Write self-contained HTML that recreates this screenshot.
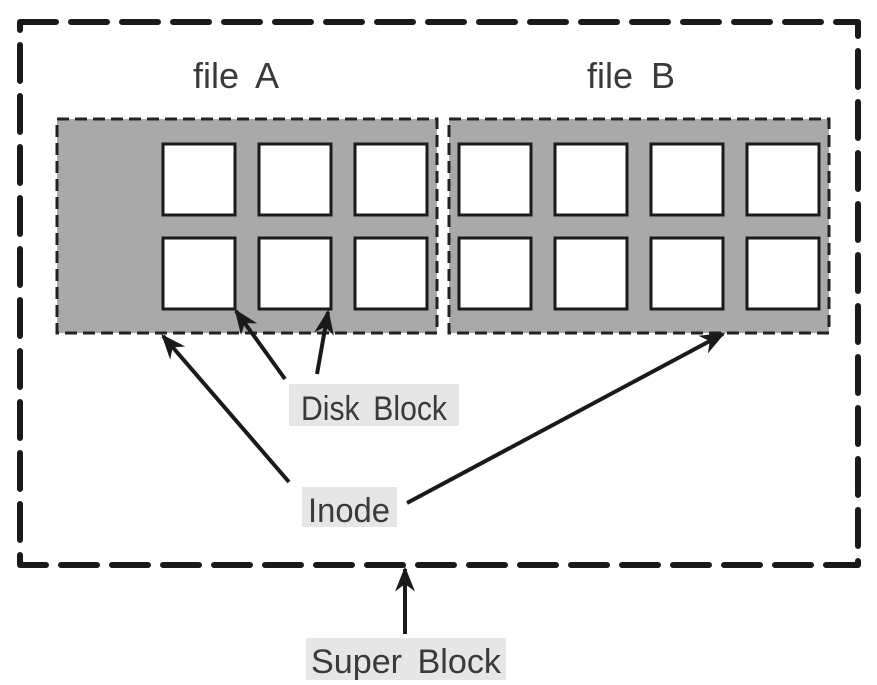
<!DOCTYPE html>
<html><head><style>body{margin:0;background:#fff}svg{display:block}text{font-family:"Liberation Sans",sans-serif;fill:#3a3a3a}</style></head><body>
<svg width="877" height="685" viewBox="0 0 877 685">
<defs>
<marker id="b" viewBox="0 0 10 10" refX="9" refY="5" markerWidth="25" markerHeight="25" orient="auto" markerUnits="userSpaceOnUse"><path d="M0,1 L10,5 L0,9 L3,5 z" fill="#1a1a1a"/></marker></defs>
<rect x="20" y="22" width="838" height="543" fill="none" stroke="#1a1a1a" stroke-width="6" stroke-dasharray="36 15" stroke-linecap="round" stroke-linejoin="round"/>
<rect x="57" y="119" width="380" height="214" fill="#a9a9a9" stroke="#222" stroke-width="3" stroke-dasharray="12 6"/>
<rect x="449" y="119" width="380" height="214" fill="#a9a9a9" stroke="#222" stroke-width="3" stroke-dasharray="12 6"/>
<g fill="#fff" stroke="#1a1a1a" stroke-width="3">
<rect x="163" y="144" width="72" height="71"/><rect x="259" y="144" width="72" height="71"/><rect x="355" y="144" width="72" height="71"/>
<rect x="163" y="238" width="72" height="71"/><rect x="259" y="238" width="72" height="71"/><rect x="355" y="238" width="72" height="71"/>
<rect x="459" y="144" width="72" height="71"/><rect x="555" y="144" width="72" height="71"/><rect x="651" y="144" width="72" height="71"/><rect x="747" y="144" width="72" height="71"/>
<rect x="459" y="238" width="72" height="71"/><rect x="555" y="238" width="72" height="71"/><rect x="651" y="238" width="72" height="71"/><rect x="747" y="238" width="72" height="71"/>
</g>
<text x="236" y="88" font-size="36" text-anchor="middle" word-spacing="8">file A</text>
<text x="631" y="88" font-size="36" text-anchor="middle" word-spacing="8">file B</text>
<rect x="289" y="384" width="170" height="42" fill="#e6e6e6"/>
<text x="374" y="420" font-size="34" text-anchor="middle" word-spacing="6" textLength="146" lengthAdjust="spacingAndGlyphs">Disk Block</text>
<rect x="302" y="487" width="95" height="40" fill="#e6e6e6"/>
<text x="349" y="522" font-size="34" text-anchor="middle" textLength="82" lengthAdjust="spacingAndGlyphs">Inode</text>
<rect x="306" y="638" width="200" height="42" fill="#e6e6e6"/>
<text x="406" y="673" font-size="34" text-anchor="middle" word-spacing="6" textLength="190" lengthAdjust="spacingAndGlyphs">Super Block</text>
<g stroke="#1a1a1a" stroke-width="4" fill="none" marker-end="url(#b)">
<line x1="289" y1="482" x2="163" y2="336"/>
<line x1="407" y1="503" x2="723" y2="334"/>
<line x1="285" y1="379" x2="236" y2="311"/>
<line x1="317" y1="374" x2="328" y2="312"/>
<line x1="405" y1="634" x2="405" y2="569"/>
</g>
</svg>
</body></html>
